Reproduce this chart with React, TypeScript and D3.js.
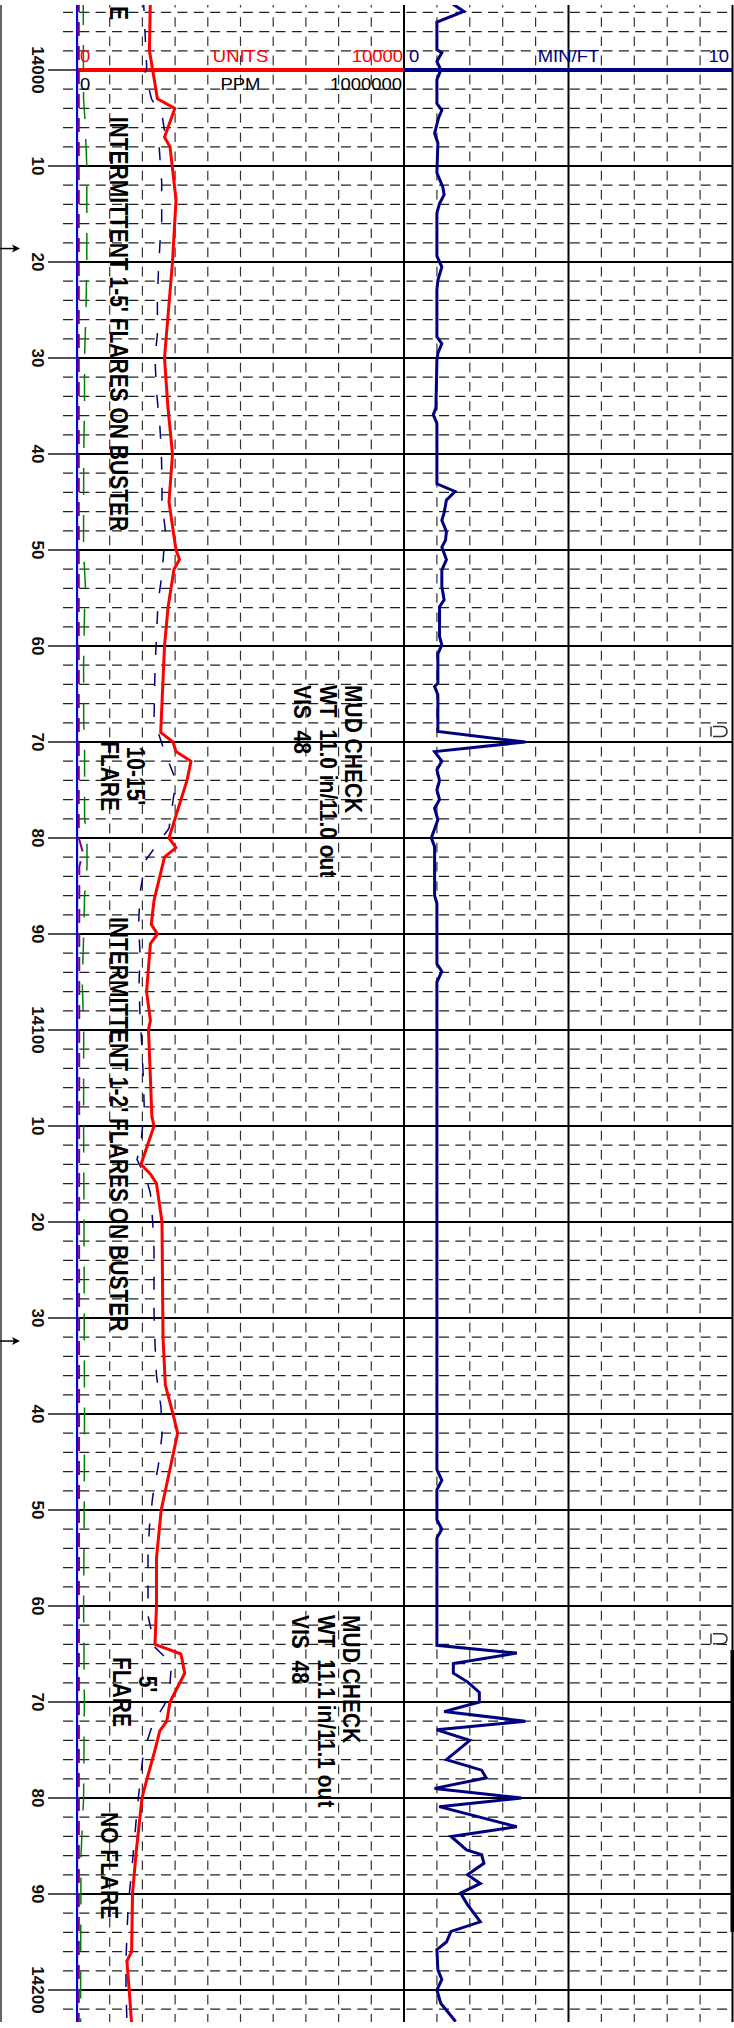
import React from 'react';
import * as d3 from 'd3';

const W = 734;
const H = 2028;
const PLOT_TOP = 5;
const PLOT_BOTTOM = 2022;

// depth ticks (every 10 ft labelled)
const majorDepths = [14000, 14010, 14020, 14030, 14040, 14050, 14060, 14070, 14080, 14090, 14100, 14110, 14120, 14130, 14140, 14150, 14160, 14170, 14180, 14190, 14200];
const majorLabels = ['14000', '10', '20', '30', '40', '50', '60', '70', '80', '90', '14100', '10', '20', '30', '40', '50', '60', '70', '80', '90', '14200'];

// header labels
const gasHeaderTop = ['0', 'UNITS', '10000'];
const gasHeaderBottom = ['0', 'PPM', '1000000'];
const ropHeader = ['0', 'MIN/FT', '10'];

// total gas (units) [depth, value]
const totalGas: [number, number][] = [
  [13992.5, 2245], [13998, 2214], [14000, 2315], [14003, 2459], [14004, 2991], [14007, 2676], [14008, 2844],
  [14013.5, 3028], [14020, 2920], [14030, 2676], [14035, 2777], [14040, 2920], [14045, 2813], [14050, 3028],
  [14051, 3135], [14052, 2966], [14056, 2783], [14060, 2676], [14069, 2560], [14070, 2936], [14071, 3028],
  [14072, 3486], [14074, 3364], [14080, 2813], [14081, 3028], [14082, 2676], [14086.5, 2355], [14089, 2272],
  [14090, 2459], [14091, 2245], [14096, 2128], [14099, 2245], [14100, 2187], [14109, 2290], [14110, 2355],
  [14114, 1957], [14115, 2245], [14116, 2431], [14120, 2599], [14132, 2630], [14137, 2703], [14140, 2936],
  [14142, 3076], [14145, 2890], [14150, 2575], [14155, 2431], [14160, 2431], [14164, 2385], [14165, 3180],
  [14167, 3294], [14170, 2844], [14172, 2746], [14173, 2532], [14175, 2385], [14178.5, 2101], [14180, 1988],
  [14185.5, 1813], [14190, 1697], [14196, 1670], [14197, 1526], [14200, 1596], [14203.5, 1670],
];

// methane (dashed navy) [depth, value]
const methane: [number, number][] = [
  [13992.5, 2031], [13999.7, 2131], [14000.3, 2080], [14003, 2278], [14005, 2615], [14006.6, 2690], [14007.8, 2508],
  [14011.7, 2590], [14016, 2590], [14018, 2538], [14021, 2489], [14024, 2459], [14027.5, 2459], [14030, 2385],
  [14033.5, 2431], [14037, 2532], [14039.5, 2575], [14042.5, 2599], [14045, 2599], [14048, 2703], [14052.5, 2599],
  [14055.5, 2477], [14062.5, 2385], [14067.7, 2355], [14071, 2676], [14074, 3028], [14079, 2813], [14082.3, 2101],
  [14085.7, 1927], [14089, 1884], [14092, 1927], [14095.3, 1896], [14098.4, 1927], [14102, 1988], [14105, 2028],
  [14108.3, 2058], [14111.7, 1957], [14113.5, 1835], [14115.3, 2101], [14117, 2245], [14120, 2315], [14123, 2355],
  [14129.5, 2355], [14132.6, 2385], [14136, 2431], [14139.3, 2569], [14142.2, 2599], [14145.3, 2489], [14148.6, 2315],
  [14151.8, 2214], [14154.7, 2171], [14161, 2171], [14164.3, 2385], [14166, 2890], [14169.5, 2813], [14172.3, 2315],
  [14175.3, 2028], [14178.4, 1927], [14181.3, 1835], [14187.7, 1670], [14191, 1569], [14194, 1529], [14197, 1498],
  [14200, 1498], [14203.5, 1529],
];

// ethane (dashed green)
const ethane: [number, number][] = [
  [13992.5, 190], [14003, 200], [14005, 240], [14010, 300], [14020, 300], [14025, 275], [14030, 230], [14035, 230],
  [14040, 205], [14050, 200], [14054, 260], [14056, 232], [14062, 202], [14068, 205], [14071, 232], [14078, 232],
  [14080, 306], [14083, 306], [14086, 232], [14090, 205], [14095, 160], [14100, 205], [14110, 202], [14120, 215],
  [14130, 220], [14140, 230], [14150, 220], [14160, 202], [14170, 225], [14180, 202], [14186, 122], [14200, 110],
  [14203.5, 110],
];

// propane (dashed purple)
const propane: [number, number][] = [
  [13992.5, 55], [14080, 55], [14081.5, 180], [14083, 70], [14203.5, 55],
];

// butane (blue)
const butane: [number, number][] = [
  [13992.5, 5], [14203.5, 5],
];

// rate of penetration (min/ft)
const rop: [number, number][] = [
  [13992.7, 1.3], [13993.9, 1.82], [13995, 1.0], [13997.9, 1.0], [13998.2, 1.15], [13999.1, 1.0], [14000, 1.12],
  [14001, 1.0], [14003.5, 1.0], [14004.2, 1.15], [14005, 1.05], [14006.6, 0.93], [14007.6, 1.03], [14010.7, 1.0],
  [14012.2, 1.18], [14013, 1.22], [14013.9, 1.08], [14014.9, 1.0], [14019.4, 1.0], [14020.5, 1.15], [14021.9, 1.03],
  [14022.9, 1.0], [14027.8, 1.0], [14028.5, 1.15], [14029.5, 1.03], [14030.2, 1.0], [14035.2, 0.97], [14035.9, 0.89],
  [14036.8, 1.0], [14043.1, 1.0], [14043.9, 1.55], [14044.8, 1.29], [14046.1, 1.22], [14046.9, 1.15], [14048.1, 1.29],
  [14049, 1.26], [14049.7, 1.15], [14051, 1.29], [14052.1, 1.15], [14053.8, 1.15], [14055.2, 1.22], [14055.9, 1.08],
  [14059, 1.08], [14059.9, 1.15], [14060.8, 1.03], [14063.9, 1.03], [14064.2, 0.93], [14065.1, 1.03], [14068.9, 1.03],
  [14070, 3.69], [14071, 0.93], [14072, 1.15], [14072.9, 1.0], [14074, 1.08], [14075, 1.0], [14076, 1.08],
  [14076.9, 0.93], [14078.1, 1.03], [14080, 0.83], [14080.9, 0.93], [14086, 0.93], [14086.8, 1.0], [14093.1, 1.0],
  [14093.9, 1.15], [14095, 1.0], [14145.8, 1.0], [14146.9, 1.15], [14147.9, 1.0], [14151, 1.0], [14152, 1.15],
  [14152.9, 1.0], [14164.1, 1.0], [14164.9, 3.43], [14166, 1.5], [14167, 1.5], [14167.9, 1.93], [14169, 2.29],
  [14170, 2.29], [14171, 1.22], [14172, 3.69], [14172.9, 1.0], [14174, 2.0], [14176, 1.29], [14177.1, 2.36],
  [14177.9, 2.5], [14179, 0.93], [14180, 3.57], [14180.9, 1.07], [14183, 3.43], [14184, 1.43], [14185.4, 1.9],
  [14185.9, 2.36], [14186.8, 2.43], [14188, 1.93], [14188.9, 2.32], [14189.9, 1.72], [14191.1, 1.93], [14192.9, 2.32],
  [14193.9, 1.43], [14195, 1.29], [14195.8, 1.0], [14197.9, 1.03], [14198.9, 1.15], [14200, 1.0], [14201.4, 1.12],
  [14202.4, 1.36], [14203.3, 1.57],
];

// annotations
const noteFlares1 = ['INTERMITTENT 1-5\' FLARES ON BUSTER'];
const noteFlares2 = ['INTERMITTENT 1-2\' FLARES ON BUSTER'];
const noteMud1 = ['MUD CHECK', 'WT  11.0 in/11.0 out', 'VIS  48'];
const noteMud2 = ['MUD CHECK', 'WT  11.1 in/11.1 out', 'VIS  48'];
const noteFlare1015 = ['10-15\'', 'FLARE'];
const noteNoFlare = ['NO FLARE'];
const arrowDepths = [14018.6, 14132.4];
const markerDepths = [14068.9, 14163.4];

const FONT = '"Liberation Sans", Arial, Helvetica, sans-serif';

const y = d3.scaleLinear().domain([14000, 14200]).range([70, 1990]);
const xGas = d3.scaleLinear().domain([0, 10000]).range([77, 404]);
const xRop = d3.scaleLinear().domain([0, 10]).range([404, 733]);

type RotProps = {
  x: number; y: number; lines: string[]; anchor?: string; size?: number; sx?: number; gap?: number;
  weight?: string; fill?: string;
};
function RotText({ x, y: yy, lines, anchor = 'start', size = 21, sx = 1.15, gap = 25.5, weight = 'bold', fill = '#000' }: RotProps) {
  return (
    <text
      transform={`translate(${x},${yy}) scale(${sx},1) rotate(90)`}
      fontSize={size}
      fontWeight={weight}
      textAnchor={anchor}
      fill={fill}
      fontFamily={FONT}
      style={{ whiteSpace: 'pre' }}
    >
      {lines.map((l, i) => (
        <tspan key={i} x={0} dy={i === 0 ? 0 : gap / sx}>{l}</tspan>
      ))}
    </text>
  );
}

function HText({ x, y: yy, t, anchor = 'start', fill = '#000', size = 16.5, sx = 1.12 }: any) {
  return (
    <text transform={`translate(${x},${yy}) scale(${sx},1)`} fontSize={size} textAnchor={anchor} fill={fill} fontFamily={FONT}>
      {t}
    </text>
  );
}

export default function App() {
  const gasLine = d3.line<[number, number]>().x(d => xGas(d[1])).y(d => y(d[0]));
  const ropLine = d3.line<[number, number]>().x(d => xRop(d[1])).y(d => y(d[0]));

  const minorDepths: number[] = [];
  for (let d = 13994; d <= 14202; d += 2) if (d % 10 !== 0) minorDepths.push(d);
  const gasDivs = d3.range(1, 10).map(i => xGas(i * 1000));
  const ropDivs = [1, 2, 3, 4, 6, 7, 8, 9].map(v => xRop(v));
  const vStart = y(13992) + 4.8;

  return (
    <svg width={W} height={H} style={{ position: 'absolute', left: 0, top: 0, background: '#fff' }}>
      <defs>
        <clipPath id="plot">
          <rect x={0} y={PLOT_TOP} width={W} height={PLOT_BOTTOM - PLOT_TOP} />
        </clipPath>
      </defs>
      <rect x={0} y={0} width={W} height={H} fill="#fff" />
      <g clipPath="url(#plot)">
        {/* vertical dashed grid */}
        {[...gasDivs, ...ropDivs].map((x, i) => (
          <line key={'vd' + i} x1={x} x2={x} y1={vStart} y2={PLOT_BOTTOM} stroke="#333" strokeWidth={1.2} strokeDasharray="9.6 9.6" />
        ))}
        {/* horizontal dashed grid */}
        {minorDepths.map(d => (
          <line key={'hd' + d} x1={63} x2={733} y1={y(d)} y2={y(d)} stroke="#222" strokeWidth={1.3} strokeDasharray="10 6.35" />
        ))}
        {/* major horizontal lines */}
        {majorDepths.map(d => (
          <g key={'hm' + d}>
            <line x1={48} x2={77} y1={y(d)} y2={y(d)} stroke="#555" strokeWidth={2} />
            {d !== 14000 && <line x1={77} x2={733} y1={y(d)} y2={y(d)} stroke="#000" strokeWidth={2.2} />}
          </g>
        ))}
        {/* track borders */}
        {[77, 404, xRop(5), 732.5].map((x, i) => (
          <line key={'vb' + i} x1={x} x2={x} y1={PLOT_TOP} y2={PLOT_BOTTOM} stroke="#000" strokeWidth={2} />
        ))}
        {/* scale lines at 14000 */}
        <line x1={77} x2={404} y1={y(14000)} y2={y(14000)} stroke="#ff0000" strokeWidth={4} />
        <line x1={404} x2={733} y1={y(14000)} y2={y(14000)} stroke="#000080" strokeWidth={4} />

        {/* curves */}
        <path d={gasLine(butane) || ''} fill="none" stroke="#0000ff" strokeWidth={2} />
        <path d={gasLine(propane) || ''} fill="none" stroke="#800080" strokeWidth={2} strokeDasharray="14 10" />
        <path d={gasLine(ethane) || ''} fill="none" stroke="#008000" strokeWidth={1.5} strokeDasharray="27 20" />
        <path d={gasLine(methane) || ''} fill="none" stroke="#000080" strokeWidth={1.5} strokeDasharray="13 18" />
        <path d={gasLine(totalGas) || ''} fill="none" stroke="#ff0000" strokeWidth={3} strokeLinejoin="round" />
        <path d={ropLine(rop) || ''} fill="none" stroke="#000080" strokeWidth={3} strokeLinejoin="miter" />
      </g>

      {/* page border */}
      <line x1={1} x2={1} y1={PLOT_TOP} y2={PLOT_BOTTOM} stroke="#333" strokeWidth={1.5} />

      {/* right edge bar */}
      <rect x={730.5} y={1650} width={3.5} height={282} fill="#000" />

      {/* header labels */}
      <HText x={80} y={62} t={gasHeaderTop[0]} fill="#ff0000" />
      <HText x={xGas(5000)} y={62} t={gasHeaderTop[1]} anchor="middle" fill="#ff0000" />
      <HText x={403} y={62} t={gasHeaderTop[2]} anchor="end" fill="#ff0000" />
      <HText x={80} y={90} t={gasHeaderBottom[0]} />
      <HText x={xGas(5000)} y={90} t={gasHeaderBottom[1]} anchor="middle" />
      <HText x={402} y={90} t={gasHeaderBottom[2]} anchor="end" />
      <HText x={409} y={62} t={ropHeader[0]} fill="#000080" />
      <HText x={xRop(5)} y={62} t={ropHeader[1]} anchor="middle" fill="#000080" />
      <HText x={729} y={62} t={ropHeader[2]} anchor="end" fill="#000080" />

      {/* depth labels */}
      {majorDepths.map((d, i) => (
        <RotText key={'dl' + d} x={31.5} y={y(d)} lines={[majorLabels[i]]} anchor="middle" size={17} sx={1} fill="#111" />
      ))}

      {/* arrows */}
      {arrowDepths.map(d => (
        <g key={'ar' + d}>
          <line x1={0} x2={16} y1={y(d)} y2={y(d)} stroke="#000" strokeWidth={1.5} />
          <path d={`M${20},${y(d)} L${12},${y(d) - 4} L${14},${y(d)} L${12},${y(d) + 4} Z`} fill="#000" />
        </g>
      ))}

      {/* markers */}
      {markerDepths.map(d => (
        <path key={'mk' + d}
          d={`M711,${y(d) - 5} L711,${y(d) + 5} M713,${y(d) - 5} L721,${y(d) - 5} Q727,${y(d) - 5} 727,${y(d)} Q727,${y(d) + 5} 721,${y(d) + 5} L713,${y(d) + 5}`}
          fill="none" stroke="#333" strokeWidth={1.5} />
      ))}

      {/* annotations */}
      <g clipPath="url(#plot)">
        <RotText x={110} y={20} lines={['E']} anchor="end" sx={1.25} />
      </g>
      <RotText x={110} y={116.7} lines={noteFlares1} sx={1.25} />
      <RotText x={345} y={685} lines={noteMud1} />
      <RotText x={127} y={776} lines={noteFlare1015} anchor="middle" gap={26} sx={1.2} />
      <RotText x={110} y={917} lines={noteFlares2} sx={1.25} />
      <RotText x={343} y={1615} lines={noteMud2} />
      <RotText x={139} y={1684} lines={["5'"]} anchor="middle" sx={1.2} />
      <RotText x={113} y={1692} lines={['FLARE']} anchor="middle" sx={1.2} />
      <RotText x={101} y={1812} lines={noteNoFlare} sx={1.1} />
    </svg>
  );
}
